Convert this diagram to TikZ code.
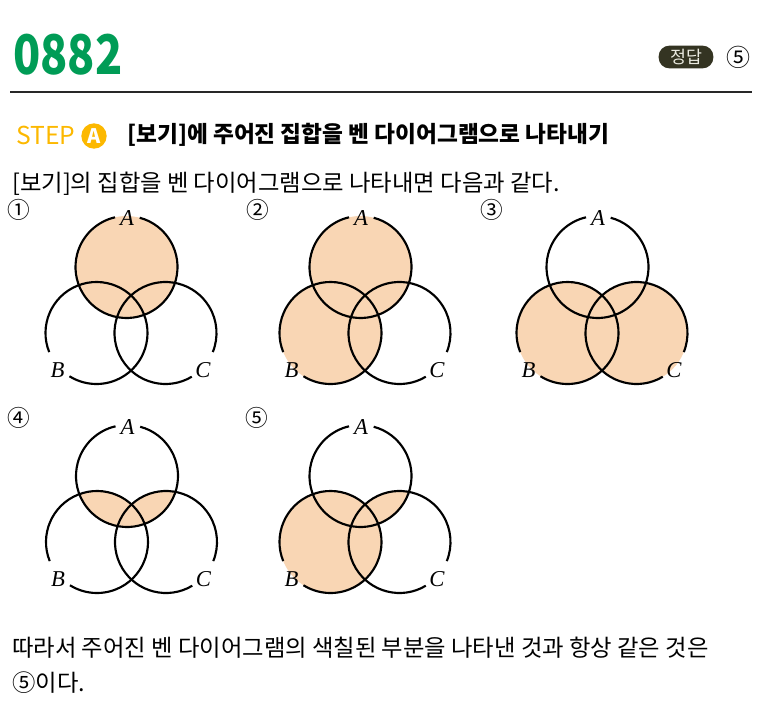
\documentclass[tikz,border=0pt]{standalone}
\usepackage{fontspec}
\setmainfont{Noto Sans CJK KR}
\newfontfamily\numfont[FakeStretch=0.82]{Noto Sans CJK KR}
\newfontfamily\labfont{Liberation Serif}
\usepackage{amsmath}
\usepackage{tikz}

\definecolor{headgreen}{RGB}{0,156,86}
\definecolor{stepyellow}{RGB}{252,184,0}
\definecolor{badgecol}{RGB}{52,52,34}
\definecolor{vennfill}{RGB}{249,214,180}

\begin{document}
\begin{tikzpicture}[x=0.75pt,y=0.75pt,yscale=-1,xscale=1,
  vline/.style={line width=1.6},
  vlabel/.style={inner sep=0.75pt,font=\labfont\itshape\fontsize{17}{17}\selectfont},
  body/.style={anchor=west,inner sep=0.75pt,font=\fontsize{17.5}{20}\selectfont},
  numlab/.style={inner sep=0.75pt,font=\fontsize{17}{17}\selectfont}]
        \path[use as bounding box] (0,0) rectangle (760,727);

        % Header
        \node [anchor=west][inner sep=0pt,text=headgreen,font=\numfont\bfseries\fontsize{41}{41}\selectfont] (qnum) at (13,55) {0882};
        \node [fill=badgecol,text={rgb,255:red,235;green,235;blue,225},rounded corners=8pt,minimum width=41pt,minimum height=17pt,inner sep=0pt,font=\fontsize{13}{13}\selectfont] (badge) at (686,57) {정답};
        \node [inner sep=0.75pt,font=\fontsize{18}{18}\selectfont] (ans) at (738,57) {⑤};
        \draw [line width=1.5,color={rgb,255:red,40;green,40;blue,40}] (10,92) -- (752,92) ;

        % Step line
        \node [anchor=west][inner sep=0pt,text=stepyellow,font=\fontsize{18.5}{18.5}\selectfont] (step) at (16,135) {STEP};
        \node [circle,fill=stepyellow,minimum size=19pt,inner sep=0pt,text=white,font=\bfseries\fontsize{15}{15}\selectfont] (stepa) at (94,136) {A};
        \node [body,font=\bfseries\fontsize{17}{20}\selectfont] (title) at (126,135) {[보기]에 주어진 집합을 벤 다이어그램으로 나타내기};
        \node [body] (intro) at (11,184) {[보기]의 집합을 벤 다이어그램으로 나타내면 다음과 같다.};

        % Centres of the sets
        \coordinate (a1) at (126.5,267); \coordinate (b1) at (96.5,333); \coordinate (c1) at (165.5,333);
        \coordinate (a2) at (360.5,267); \coordinate (b2) at (330.5,333); \coordinate (c2) at (399.5,333);
        \coordinate (a3) at (597.5,267); \coordinate (b3) at (567.5,333); \coordinate (c3) at (636.5,333);
        \coordinate (a4) at (127,476); \coordinate (b4) at (97,542); \coordinate (c4) at (166,542);
        \coordinate (a5) at (360.5,476); \coordinate (b5) at (330.5,542); \coordinate (c5) at (399.5,542);

        %Shape: shaded parts
        % 1: A
        \fill [vennfill] (a1) circle [radius=51] ;
        % 2: A or B
        \fill [vennfill] (a2) circle [radius=51] (b2) circle [radius=51] ;
        % 3: B or C
        \fill [vennfill] (b3) circle [radius=51] (c3) circle [radius=51] ;
        % 4: (A and B) or (A and C)
        \begin{scope}
          \clip (a4) circle [radius=51] ;
          \fill [vennfill] (b4) circle [radius=51] (c4) circle [radius=51] ;
        \end{scope}
        % 5: B or (A and C)
        \fill [vennfill] (b5) circle [radius=51] ;
        \begin{scope}
          \clip (a5) circle [radius=51] ;
          \fill [vennfill] (c5) circle [radius=51] ;
        \end{scope}

        %Shape: circles, open where the labels sit
        \draw [vline] (a1) ++(285:51) arc [start angle=285, end angle=617, radius=51] ;
        \draw [vline] (b1) ++(158:51) arc [start angle=158, end angle=482, radius=51] ;
        \draw [vline] (c1) ++(59:51) arc [start angle=59, end angle=382, radius=51] ;

        \draw [vline] (a2) ++(285:51) arc [start angle=285, end angle=617, radius=51] ;
        \draw [vline] (b2) ++(158:51) arc [start angle=158, end angle=482, radius=51] ;
        \draw [vline] (c2) ++(59:51) arc [start angle=59, end angle=382, radius=51] ;

        \draw [vline] (a3) ++(285:51) arc [start angle=285, end angle=617, radius=51] ;
        \draw [vline] (b3) ++(158:51) arc [start angle=158, end angle=482, radius=51] ;
        \draw [vline] (c3) ++(59:51) arc [start angle=59, end angle=382, radius=51] ;

        \draw [vline] (a4) ++(285:51) arc [start angle=285, end angle=617, radius=51] ;
        \draw [vline] (b4) ++(158:51) arc [start angle=158, end angle=482, radius=51] ;
        \draw [vline] (c4) ++(59:51) arc [start angle=59, end angle=382, radius=51] ;

        \draw [vline] (a5) ++(285:51) arc [start angle=285, end angle=617, radius=51] ;
        \draw [vline] (b5) ++(158:51) arc [start angle=158, end angle=482, radius=51] ;
        \draw [vline] (c5) ++(59:51) arc [start angle=59, end angle=382, radius=51] ;

        % Text Node
        \node [numlab] (n1) at (19,210) {①};
        \node [vlabel] (la1) at (127,218) {A};
        \node [vlabel] (lb1) at (57.5,370) {B};
        \node [vlabel] (lc1) at (203,370) {C};
        % Text Node
        \node [numlab] (n2) at (258,210) {②};
        \node [vlabel] (la2) at (361,218) {A};
        \node [vlabel] (lb2) at (291.5,370) {B};
        \node [vlabel] (lc2) at (437,370) {C};
        % Text Node
        \node [numlab] (n3) at (492,210) {③};
        \node [vlabel] (la3) at (598,218) {A};
        \node [vlabel] (lb3) at (528.5,370) {B};
        \node [vlabel] (lc3) at (674,370) {C};
        % Text Node
        \node [numlab] (n4) at (19,418) {④};
        \node [vlabel] (la4) at (127.5,427) {A};
        \node [vlabel] (lb4) at (58,579) {B};
        \node [vlabel] (lc4) at (203.5,579) {C};
        % Text Node
        \node [numlab] (n5) at (257,418) {⑤};
        \node [vlabel] (la5) at (361,427) {A};
        \node [vlabel] (lb5) at (291.5,579) {B};
        \node [vlabel] (lc5) at (437,579) {C};

        % Conclusion
        \node [body] (concl) at (11,648) {따라서 주어진 벤 다이어그램의 색칠된 부분을 나타낸 것과 항상 같은 것은};
        \node [body] (concl2) at (11,683) {⑤이다.};

\end{tikzpicture}
\end{document}
